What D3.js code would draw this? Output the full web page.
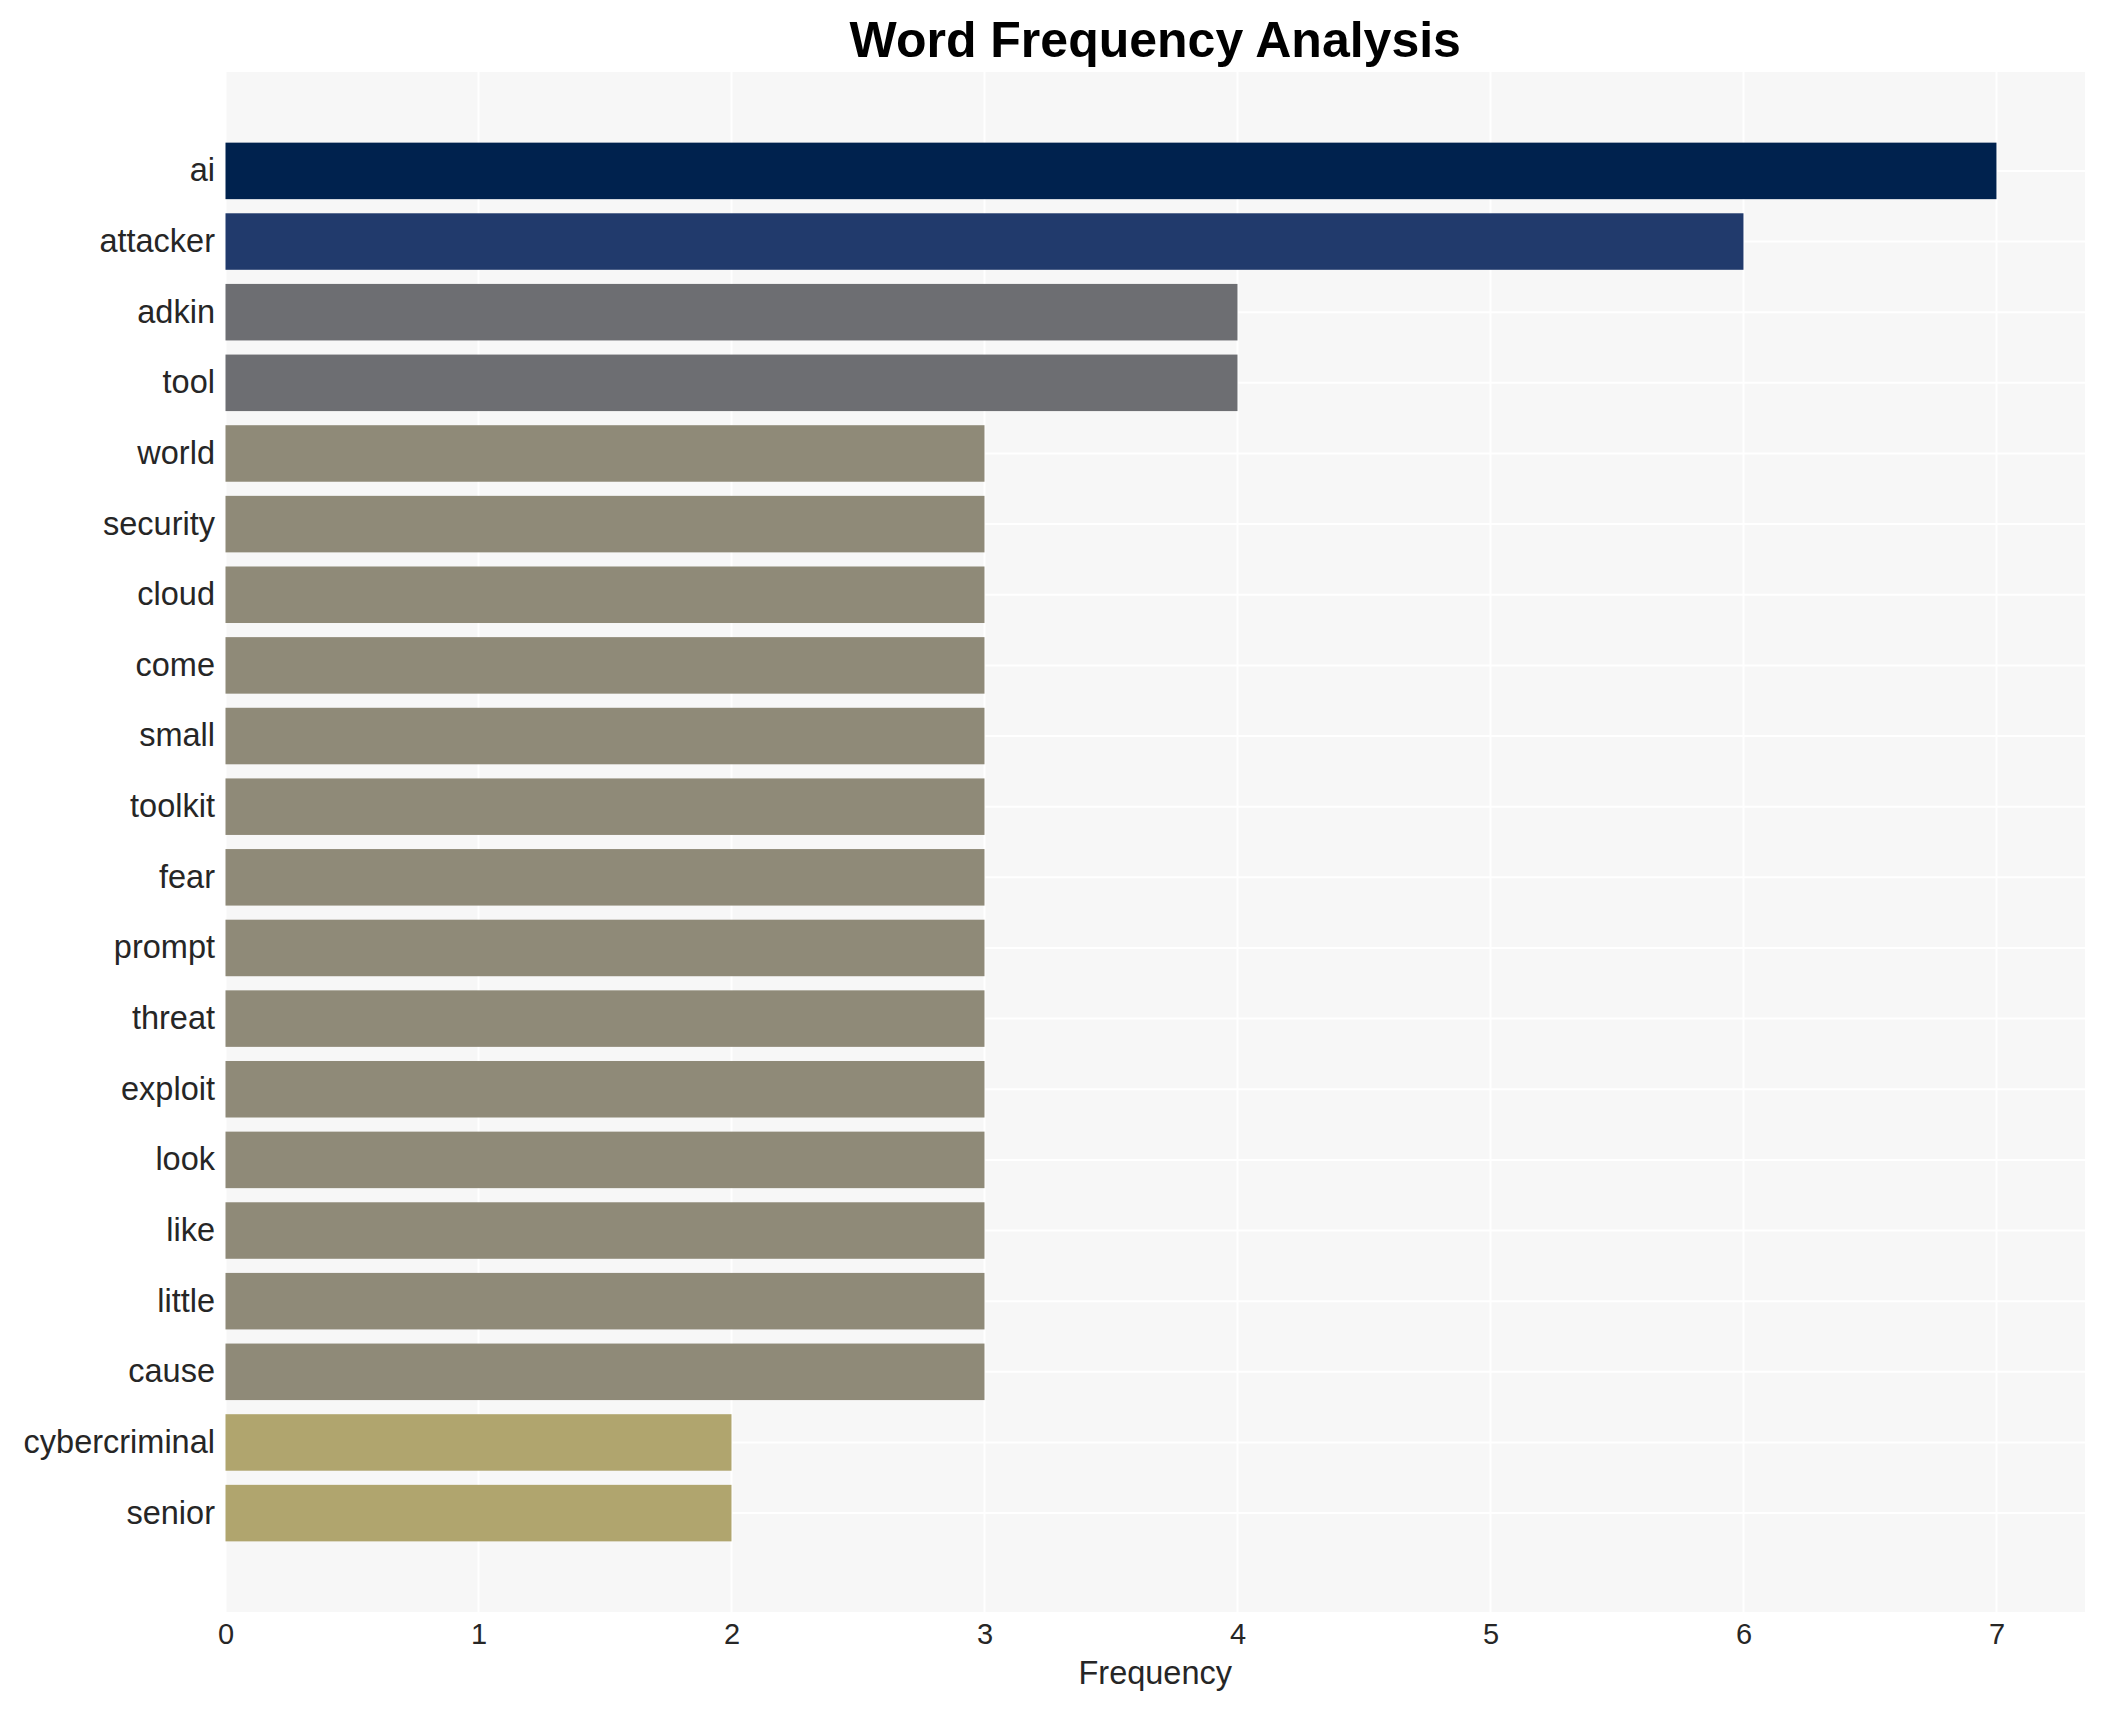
<!DOCTYPE html>
<html>
<head>
<meta charset="utf-8">
<script src="https://cdn.jsdelivr.net/npm/d3@7"></script>
<style>
  html, body { margin: 0; padding: 0; background: #ffffff; }
  svg { display: block; }
  text { font-family: "Liberation Sans", Arial, Helvetica, sans-serif; }
</style>
</head>
<body>
<svg id="chart" width="2105" height="1710"></svg>
<script>
// ---- data ----
const words = ["ai", "attacker", "adkin", "tool", "world", "security", "cloud", "come", "small", "toolkit",
               "fear", "prompt", "threat", "exploit", "look", "like", "little", "cause", "cybercriminal", "senior"];
const frequencies = [7, 6, 4, 4, 3, 3, 3, 3, 3, 3, 3, 3, 3, 3, 3, 3, 3, 3, 2, 2];
const xTicks = [0, 1, 2, 3, 4, 5, 6, 7];
const titleText = "Word Frequency Analysis";
const xLabel = "Frequency";

// ---- styling (kept separate from data) ----
const colorByValue = d3.scaleOrdinal()
  .domain([7, 6, 4, 3, 2])
  .range(["#00224e", "#213a6c", "#6d6e72", "#8f8a78", "#b0a56e"]);

const panel = { left: 225.5, right: 2085, top: 72, bottom: 1612 };

const svg = d3.select("#chart");

const x = d3.scaleLinear().domain([0, 7.35]).range([panel.left, panel.right]);
const y = d3.scaleBand().domain(words).range([panel.top, panel.bottom])
  .paddingInner(0.2).paddingOuter(1.0).align(0.5);

// panel background
svg.append("rect")
  .attr("x", panel.left).attr("y", panel.top)
  .attr("width", panel.right - panel.left).attr("height", panel.bottom - panel.top)
  .attr("fill", "#f7f7f7");

// grid lines
const grid = svg.append("g");
grid.selectAll("line.v").data(xTicks).join("line")
  .attr("class", "v")
  .attr("x1", d => x(d)).attr("x2", d => x(d))
  .attr("y1", panel.top).attr("y2", panel.bottom)
  .attr("stroke", "#ffffff").attr("stroke-width", 2);
grid.selectAll("line.h").data(words).join("line")
  .attr("class", "h")
  .attr("x1", panel.left).attr("x2", panel.right)
  .attr("y1", d => y(d) + y.bandwidth() / 2).attr("y2", d => y(d) + y.bandwidth() / 2)
  .attr("stroke", "#ffffff").attr("stroke-width", 2);

// bars
svg.append("g").selectAll("rect").data(words).join("rect")
  .attr("x", x(0))
  .attr("y", d => y(d))
  .attr("width", (d, i) => x(frequencies[i]) - x(0))
  .attr("height", y.bandwidth())
  .attr("fill", (d, i) => colorByValue(frequencies[i]));

// y axis (category labels)
const yAxis = d3.axisLeft(y).tickSize(0).tickPadding(10.5);
const gy = svg.append("g").attr("transform", `translate(${panel.left},0)`).call(yAxis);
gy.select(".domain").remove();
gy.selectAll("text")
  .attr("font-size", 32.5)
  .attr("fill", "#262626")
  .attr("font-family", "'Liberation Sans', Arial, Helvetica, sans-serif");

// x axis
const xAxis = d3.axisBottom(x).tickValues(xTicks).tickFormat(d3.format("d")).tickSize(0).tickPadding(11);
const gx = svg.append("g").attr("transform", `translate(0,${panel.bottom})`).call(xAxis);
gx.select(".domain").remove();
gx.selectAll("text")
  .attr("font-size", 29)
  .attr("fill", "#262626")
  .attr("font-family", "'Liberation Sans', Arial, Helvetica, sans-serif");

// x axis title
svg.append("text")
  .attr("x", (panel.left + panel.right) / 2)
  .attr("y", 1684)
  .attr("text-anchor", "middle")
  .attr("font-size", 32.5)
  .attr("fill", "#262626")
  .text(xLabel);

// chart title
svg.append("text")
  .attr("x", (panel.left + panel.right) / 2)
  .attr("y", 57)
  .attr("text-anchor", "middle")
  .attr("font-size", 50)
  .attr("font-weight", "bold")
  .attr("fill", "#000000")
  .text(titleText);
</script>
</body>
</html>
